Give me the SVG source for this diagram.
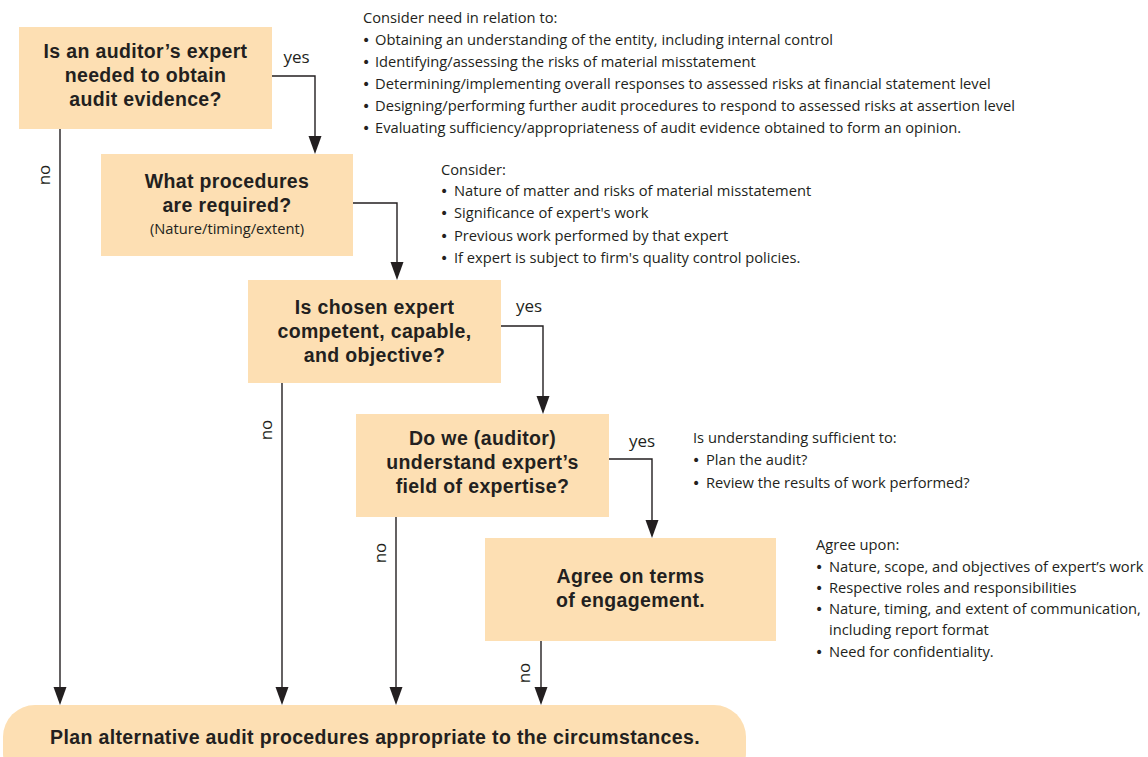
<svg xmlns="http://www.w3.org/2000/svg" width="1148" height="757" viewBox="0 0 1148 757">
<defs>
<style>
.box{fill:#fddfb3;}
.bt{font-family:"Liberation Sans",Arial,sans-serif;font-weight:bold;font-size:19.5px;letter-spacing:0.35px;fill:#231f20;text-anchor:middle;}
.st{font-family:"Open Sans","Noto Sans",sans-serif;font-size:14.7px;fill:#231f20;}
.bu{font-family:"DejaVu Sans",sans-serif;font-size:14px;fill:#231f20;}
.lb{font-family:"Open Sans","Noto Sans",sans-serif;font-size:17px;fill:#231f20;text-anchor:middle;}
.cn{fill:none;stroke:#231f20;stroke-width:1.4;}
.ah{fill:#231f20;}
</style>
</defs>
<rect width="1148" height="757" fill="#ffffff"/>

<g id="connectors">
<path class="cn" d="M272,76 H315 V137"/>
<path class="ah" d="M308.5,136 L321.5,136 L315,154 Z"/>
<path class="cn" d="M353,203 H397 V263"/>
<path class="ah" d="M390.5,262 L403.5,262 L397,280 Z"/>
<path class="cn" d="M501,326 H543 V397"/>
<path class="ah" d="M536.5,396 L549.5,396 L543,414 Z"/>
<path class="cn" d="M609,459 H652 V521"/>
<path class="ah" d="M645.5,520 L658.5,520 L652,538 Z"/>
<path class="cn" d="M60,129 V688"/>
<path class="ah" d="M53.5,687 L66.5,687 L60,705 Z"/>
<path class="cn" d="M282,383 V688"/>
<path class="ah" d="M275.5,687 L288.5,687 L282,705 Z"/>
<path class="cn" d="M396,517 V688"/>
<path class="ah" d="M389.5,687 L402.5,687 L396,705 Z"/>
<path class="cn" d="M541,641 V688"/>
<path class="ah" d="M534.5,687 L547.5,687 L541,705 Z"/>
<text class="lb" x="296.5" y="63">yes</text>
<text class="lb" x="529" y="312">yes</text>
<text class="lb" x="642" y="447">yes</text>
<text class="lb" transform="translate(50,175) rotate(-90)">no</text>
<text class="lb" transform="translate(272,430) rotate(-90)">no</text>
<text class="lb" transform="translate(386,553) rotate(-90)">no</text>
<text class="lb" transform="translate(530,673) rotate(-90)">no</text>
</g>

<g id="node1">
<rect class="box" x="19" y="27" width="253" height="102"/>
<text class="bt" x="145.5" y="58">Is an auditor’s expert</text>
<text class="bt" x="145.5" y="82">needed to obtain</text>
<text class="bt" x="145.5" y="106">audit evidence?</text>
</g>

<g id="node2">
<rect class="box" x="101" y="154" width="252" height="102"/>
<text class="bt" x="227" y="188">What procedures</text>
<text class="bt" x="227" y="212">are required?</text>
<text class="st" x="227" y="234" text-anchor="middle">(Nature/timing/extent)</text>
</g>

<g id="node3">
<rect class="box" x="248" y="280" width="253" height="103"/>
<text class="bt" x="374.5" y="314">Is chosen expert</text>
<text class="bt" x="374.5" y="338">competent, capable,</text>
<text class="bt" x="374.5" y="362">and objective?</text>
</g>

<g id="node4">
<rect class="box" x="356" y="414" width="253" height="103"/>
<text class="bt" x="482.5" y="445">Do we (auditor)</text>
<text class="bt" x="482.5" y="469">understand expert’s</text>
<text class="bt" x="482.5" y="493">field of expertise?</text>
</g>

<g id="node5">
<rect class="box" x="485" y="538" width="291" height="103"/>
<text class="bt" x="630.5" y="583">Agree on terms</text>
<text class="bt" x="630.5" y="607">of engagement.</text>
</g>

<g id="node6">
<rect class="box" x="3" y="705" width="743" height="80" rx="32" ry="32"/>
<text class="bt" x="375" y="744">Plan alternative audit procedures appropriate to the circumstances.</text>
</g>

<g id="note1">
<text class="st" x="363" y="23">Consider need in relation to:</text>
<text class="bu" x="362" y="45">•</text><text class="st" x="375" y="45">Obtaining an understanding of the entity, including internal control</text>
<text class="bu" x="362" y="67">•</text><text class="st" x="375" y="67">Identifying/assessing the risks of material misstatement</text>
<text class="bu" x="362" y="89">•</text><text class="st" x="375" y="89">Determining/implementing overall responses to assessed risks at financial statement level</text>
<text class="bu" x="362" y="111">•</text><text class="st" x="375" y="111">Designing/performing further audit procedures to respond to assessed risks at assertion level</text>
<text class="bu" x="362" y="133">•</text><text class="st" x="375" y="133">Evaluating sufficiency/appropriateness of audit evidence obtained to form an opinion.</text>
</g>

<g id="note2">
<text class="st" x="441" y="175">Consider:</text>
<text class="bu" x="440" y="196">•</text><text class="st" x="454" y="196">Nature of matter and risks of material misstatement</text>
<text class="bu" x="440" y="218">•</text><text class="st" x="454" y="218">Significance of expert's work</text>
<text class="bu" x="440" y="241">•</text><text class="st" x="454" y="241">Previous work performed by that expert</text>
<text class="bu" x="440" y="263">•</text><text class="st" x="454" y="263">If expert is subject to firm's quality control policies.</text>
</g>

<g id="note3">
<text class="st" x="693" y="443">Is understanding sufficient to:</text>
<text class="bu" x="692" y="465">•</text><text class="st" x="706" y="465">Plan the audit?</text>
<text class="bu" x="692" y="488">•</text><text class="st" x="706" y="488">Review the results of work performed?</text>
</g>

<g id="note4">
<text class="st" x="816" y="550">Agree upon:</text>
<text class="bu" x="815" y="572">•</text><text class="st" x="829" y="572">Nature, scope, and objectives of expert’s work</text>
<text class="bu" x="815" y="593">•</text><text class="st" x="829" y="593">Respective roles and responsibilities</text>
<text class="bu" x="815" y="614">•</text><text class="st" x="829" y="614">Nature, timing, and extent of communication,</text>
<text class="st" x="829" y="635">including report format</text>
<text class="bu" x="815" y="657">•</text><text class="st" x="829" y="657">Need for confidentiality.</text>
</g>
</svg>
